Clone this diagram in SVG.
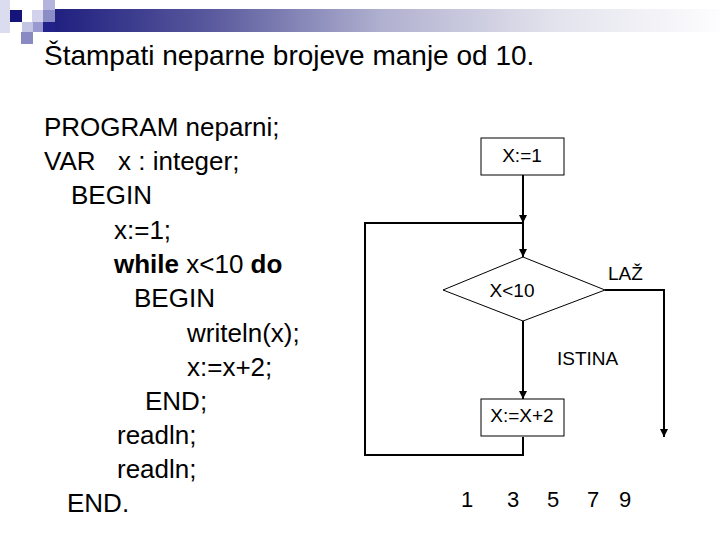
<svg xmlns="http://www.w3.org/2000/svg" width="720" height="540" viewBox="0 0 720 540">
<defs>
<linearGradient id="bar" x1="0" y1="0" x2="1" y2="0">
<stop offset="0" stop-color="#1c1c7e"/>
<stop offset="0.25" stop-color="#5a5a9e"/>
<stop offset="0.5" stop-color="#b0b0d0"/>
<stop offset="0.75" stop-color="#e2e2ec"/>
<stop offset="1" stop-color="#fdfdfe"/>
</linearGradient>
<marker id="arr" viewBox="0 0 10 10" refX="10" refY="5" markerWidth="4" markerHeight="4" orient="auto" markerUnits="strokeWidth">
<path d="M0,0 L10,5 L0,10 z" fill="#000"/>
</marker>
</defs>
<style>
text{font-family:"Liberation Sans",Arial,sans-serif;fill:#000}
.code{font-size:26px}
.title{font-size:28px}
.fc{font-size:19px}
.num{font-size:22px}
.shape{fill:#fff;stroke:#000;stroke-width:1}
.conn{fill:none;stroke:#000;stroke-width:2}
</style>
<rect width="720" height="540" fill="#fff"/>
<g id="header">
<rect x="44" y="9" width="676" height="23" fill="url(#bar)"/>
<rect x="0" y="0" width="10" height="33" fill="#dcdcf0"/>
<rect x="10" y="10" width="12" height="12" fill="#14147a"/>
<rect x="32" y="10" width="11" height="12" fill="#d2d2ec"/>
<rect x="43" y="0" width="12" height="10" fill="#b4b4dc"/>
<rect x="43" y="10" width="12" height="12" fill="#8c8cc6"/>
<rect x="22" y="22" width="11" height="10" fill="#c4c4e4"/>
<rect x="33" y="22" width="10" height="10" fill="#9a9ad0"/>
<rect x="43" y="22" width="12" height="10" fill="#22228a"/>
<rect x="21" y="32" width="12" height="12" fill="#8a8ac2"/>
</g>
<text class="title" x="44" y="65">Štampati neparne brojeve manje od 10.</text>
<g id="code" class="code">
<text x="44" y="136">PROGRAM neparni;</text>
<text x="44" y="170">VAR<tspan x="118">x : integer;</tspan></text>
<text x="71" y="204">BEGIN</text>
<text x="114" y="239">x:=1;</text>
<text x="114" y="273"><tspan font-weight="bold">while</tspan> x&lt;10 <tspan font-weight="bold">do</tspan></text>
<text x="134" y="307">BEGIN</text>
<text x="187" y="342">writeln(x);</text>
<text x="187" y="376">x:=x+2;</text>
<text x="145" y="410">END;</text>
<text x="117" y="444">readln;</text>
<text x="117" y="478">readln;</text>
<text x="67" y="512">END.</text>
</g>
<g id="connectors">
<path class="conn" d="M523,175 V223" marker-end="url(#arr)"/>
<path class="conn" d="M523,223 V257" marker-end="url(#arr)"/>
<path class="conn" d="M523,321 V399" marker-end="url(#arr)"/>
<path class="conn" d="M523,437 V455 H365 V223 H523"/>
<path class="conn" d="M605,290 H664 V437" marker-end="url(#arr)"/>
</g>
<g id="n1">
<rect class="shape" x="481" y="138" width="83" height="37"/>
<text class="fc" x="522" y="162" text-anchor="middle">X:=1</text>
</g>
<g id="n2">
<path class="shape" d="M523,257 L605,290 L523,321 L443,290 Z"/>
<text class="fc" x="512" y="297" text-anchor="middle">X&lt;10</text>
</g>
<g id="n3">
<rect class="shape" x="481" y="399" width="83" height="37"/>
<text class="fc" x="522" y="422" text-anchor="middle">X:=X+2</text>
</g>
<text class="fc" x="608" y="280">LAŽ</text>
<text class="fc" x="557" y="365">ISTINA</text>
<text class="num" y="507" text-anchor="middle"><tspan x="467">1</tspan><tspan x="513">3</tspan><tspan x="553">5</tspan><tspan x="593">7</tspan><tspan x="625">9</tspan></text>
</svg>
